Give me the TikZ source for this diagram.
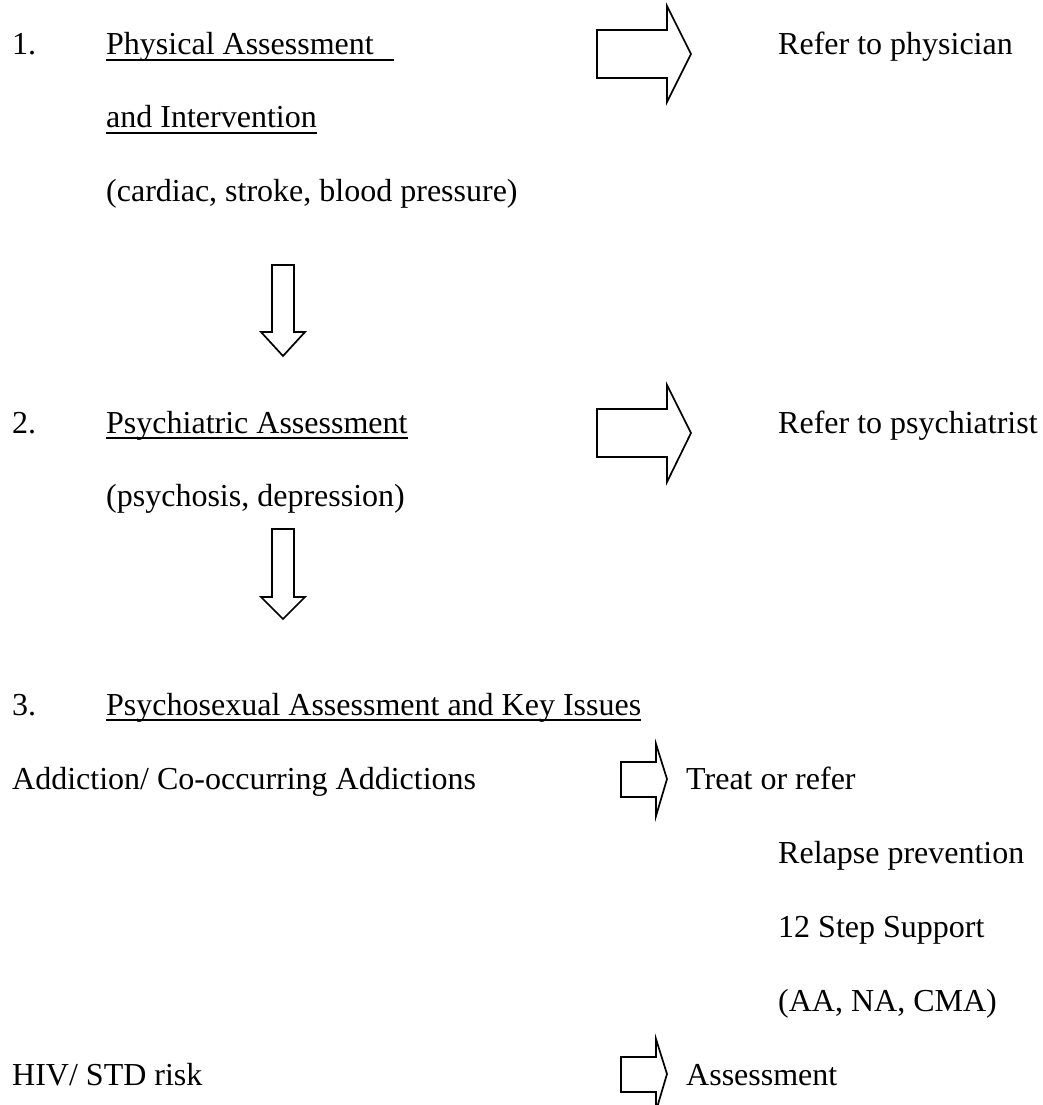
\documentclass[tikz,border=0pt]{standalone}
\usepackage{fontspec}
\setmainfont{Liberation Serif}
\usetikzlibrary{positioning}

\begin{document}
\begin{tikzpicture}[x=1pt,y=-1pt,font=\fontsize{32}{38}\selectfont,
  txt/.style={anchor=base west,inner sep=0pt},
  ul/.style={line width=1.5pt},
  blk/.style={line width=1.7pt}]
\useasboundingbox (0,0) rectangle (1042,1105);
% step 1
\node[txt] (num1) at (12,55) {1.};
\node[txt] (phys) at (106,55) {Physical Assessment};
\node[txt] (interv) at (106,128) {and Intervention};
\node[txt] (cardiac) at (106,201) {(cardiac, stroke, blood pressure)};
\node[txt] (physician) at (778,55) {Refer to physician};
\coordinate (physend) at (394,55);
\draw[ul] ([yshift=-5pt]phys.base west) -- ([yshift=-5pt]physend);
\draw[ul] ([yshift=-5pt]interv.base west) -- ([yshift=-5pt]interv.base east);
\draw[blk] (597,30) -- (667,30) -- (667,6) -- (691,54) -- (667,102) -- (667,78) -- (597,78) -- cycle;
\draw[blk] (272,265) -- (294,265) -- (294,332) -- (305,332) -- (283,356) -- (261,332) -- (272,332) -- cycle;
% step 2
\node[txt] (num2) at (12,433) {2.};
\node[txt] (psych) at (106,433) {Psychiatric Assessment};
\node[txt] (psychosis) at (106,506) {(psychosis, depression)};
\node[txt] (psychiatrist) at (778,433) {Refer to psychiatrist};
\draw[ul] ([yshift=-5pt]psych.base west) -- ([yshift=-5pt]psych.base east);
\draw[blk] (597,409) -- (667,409) -- (667,385) -- (691,433) -- (667,482) -- (667,457) -- (597,457) -- cycle;
\draw[blk] (272,529) -- (294,529) -- (294,597) -- (305,597) -- (283,619) -- (261,597) -- (272,597) -- cycle;
% step 3
\node[txt] (num3) at (12,715) {3.};
\node[txt] (sexual) at (106,715) {Psychosexual Assessment and Key Issues};
\draw[ul] ([yshift=-5pt]sexual.base west) -- ([yshift=-5pt]sexual.base east);
\node[txt] (addict) at (12,789) {Addiction/ Co-occurring Addictions};
\node[txt] (treat) at (686,789) {Treat or refer};
\node[txt] (relapse) at (778,863) {Relapse prevention};
\node[txt] (twelve) at (778,937) {12 Step Support};
\node[txt] (aa) at (778,1011) {(AA, NA, CMA)};
\node[txt] (hiv) at (12,1085) {HIV/ STD risk};
\node[txt] (assess) at (686,1085) {Assessment};
\draw[blk] (621,762) -- (656,762) -- (656,744) -- (667,779) -- (656,816) -- (656,797) -- (621,797) -- cycle;
\draw[blk] (621,1057) -- (656,1057) -- (656,1039) -- (667,1074) -- (656,1111) -- (656,1092) -- (621,1092) -- cycle;
\end{tikzpicture}
\end{document}
